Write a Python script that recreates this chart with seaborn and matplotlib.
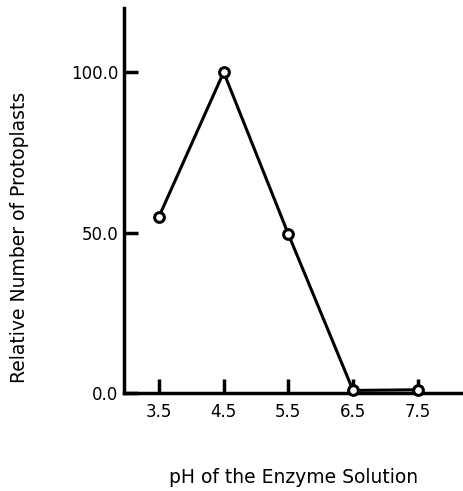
import matplotlib
matplotlib.use("Agg")
import matplotlib.pyplot as plt
import seaborn as sns
import pandas as pd

ph = [3.5, 4.5, 5.5, 6.5, 7.5]
relative = [55.0, 100.0, 49.5, 0.8, 1.0]
xticks = [3.5, 4.5, 5.5, 6.5, 7.5]
yticks = [0.0, 50.0, 100.0]

sns.set_theme(style="ticks")
plt.rcParams['font.family'] = ['DejaVu Sans']
plt.rcParams['text.color'] = 'black'
plt.rcParams['axes.labelcolor'] = 'black'

df = pd.DataFrame({"ph": ph, "rel": relative})

fig = plt.figure(figsize=(4.63, 4.91), dpi=100)
ax = fig.add_axes([0.268, 0.1996, 0.732, 0.784])

sns.lineplot(data=df, x="ph", y="rel", ax=ax, color="black", linewidth=2.2,
             marker="o", markersize=7, markerfacecolor="white",
             markeredgecolor="black", markeredgewidth=2.2, clip_on=False, zorder=3)

ax.set_xlim(2.96, 8.2)
ax.set_ylim(0, 120)
ax.set_xticks(xticks)
ax.set_xticklabels([f"{v:.1f}" for v in xticks])
ax.set_yticks(yticks)
ax.set_yticklabels([f"{v:.1f}" for v in yticks])

for s in ["top", "right"]:
    ax.spines[s].set_visible(False)
for s in ["left", "bottom"]:
    ax.spines[s].set_linewidth(2.5)
    ax.spines[s].set_color("black")

ax.tick_params(axis="x", direction="in", length=10, width=2.5, labelsize=12, pad=7,
               colors="black", labelcolor="black")
ax.tick_params(axis="y", direction="in", length=10, width=2.5, labelsize=12, pad=4,
               colors="black", labelcolor="black")

ax.set_xlabel("pH of the Enzyme Solution", fontsize=13.5, labelpad=34, color="black")
ax.set_ylabel("Relative Number of Protoplasts", fontsize=13.5, color="black")
ax.yaxis.set_label_coords(-0.28, 0.405)

fig.savefig("out.png", dpi=100)
